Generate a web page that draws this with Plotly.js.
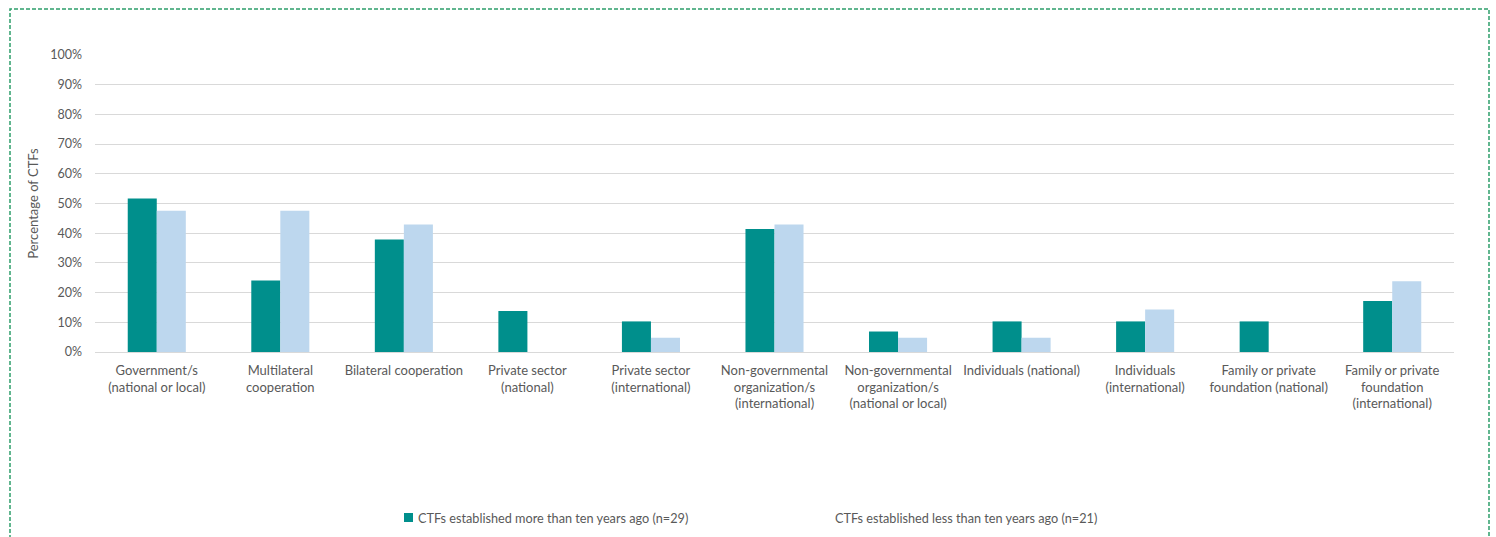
<!DOCTYPE html>
<html>
<head>
<meta charset="utf-8">
<script src="https://cdn.plot.ly/plotly-3.0.1.min.js"></script>
<style>
html,body{margin:0;padding:0;background:#fff;}
#chart{width:1496px;height:537px;}
</style>
</head>
<body>
<div id="chart"></div>
<script>
const categories = [
  "Government/s<br>(national or local)",
  "Multilateral<br>cooperation",
  "Bilateral cooperation",
  "Private sector<br>(national)",
  "Private sector<br>(international)",
  "Non-governmental<br>organization/s<br>(international)",
  "Non-governmental<br>organization/s<br>(national or local)",
  "Individuals (national)",
  "Individuals<br>(international)",
  "Family or private<br>foundation (national)",
  "Family or private<br>foundation<br>(international)"
];
const olderName = "CTFs established more than ten years ago (n=29)";
const newerName = "CTFs established less than ten years ago (n=21)";
const olderValues = [0.517, 0.241, 0.379, 0.138, 0.103, 0.414, 0.069, 0.103, 0.103, 0.103, 0.172];
const newerValues = [0.476, 0.476, 0.429, 0, 0.048, 0.429, 0.048, 0.048, 0.143, 0, 0.238];
const yTitle = "Percentage of CTFs";

const teal = "#008F8C";
const lightBlue = "#BDD7EE";
const grey = "#595959";
const font = "Lato, 'Open Sans', sans-serif";

const W = 1496, H = 537;
const L = 95, R = 42, T = 55, B = 185;
const pw = W - L - R, ph = H - T - B;
const px = x => (x - L) / pw;
const py = y => (H - B - y) / ph;

const traces = [
  {type: "bar", name: olderName, x: categories, y: olderValues, marker: {color: teal}, hoverinfo: "x+y"},
  {type: "bar", name: newerName, x: categories, y: newerValues, marker: {color: lightBlue}, hoverinfo: "x+y"}
];

const layout = {
  width: W, height: H,
  margin: {l: L, r: R, t: T, b: B},
  paper_bgcolor: "#fff", plot_bgcolor: "#fff",
  font: {family: font, color: grey, size: 12},
  showlegend: false,
  barmode: "group",
  bargap: 0.53,
  bargroupgap: 0,
  xaxis: {
    type: "category",
    tickfont: {family: font, size: 13, color: grey},
    showgrid: false, showline: true, linecolor: "#d9d9d9", linewidth: 1,
    ticks: "", tickangle: 0, automargin: false,
    ticklabelstandoff: 6
  },
  yaxis: {
    range: [0, 1], dtick: 0.1, tickformat: ".0%",
    tickfont: {family: font, size: 12.5, color: grey},
    gridcolor: "#d9d9d9", gridwidth: 1, zeroline: false,
    showline: false, ticks: "", automargin: false,
    ticklabelstandoff: 12,
    title: {text: yTitle, font: {family: font, size: 13, color: grey}, standoff: 8}
  },
  shapes: [
    {type: "rect", xref: "paper", yref: "paper",
     x0: px(10), x1: px(1489), y0: py(545), y1: py(9),
     line: {color: "#2E9E6B", width: 1.5, dash: "4px,2px"}, fillcolor: "rgba(0,0,0,0)"},
    {type: "rect", xref: "paper", yref: "paper",
     x0: px(404), x1: px(413), y0: py(522), y1: py(513),
     line: {width: 0}, fillcolor: teal}
  ],
  annotations: [
    {xref: "paper", yref: "paper", x: px(416), y: py(518), xanchor: "left", yanchor: "middle",
     text: olderName, showarrow: false, font: {family: font, size: 12.7, color: grey}},
    {xref: "paper", yref: "paper", x: px(833), y: py(518), xanchor: "left", yanchor: "middle",
     text: newerName, showarrow: false, font: {family: font, size: 12.7, color: grey}}
  ]
};

Plotly.newPlot("chart", traces, layout, {displayModeBar: false, staticPlot: true});
</script>
</body>
</html>
